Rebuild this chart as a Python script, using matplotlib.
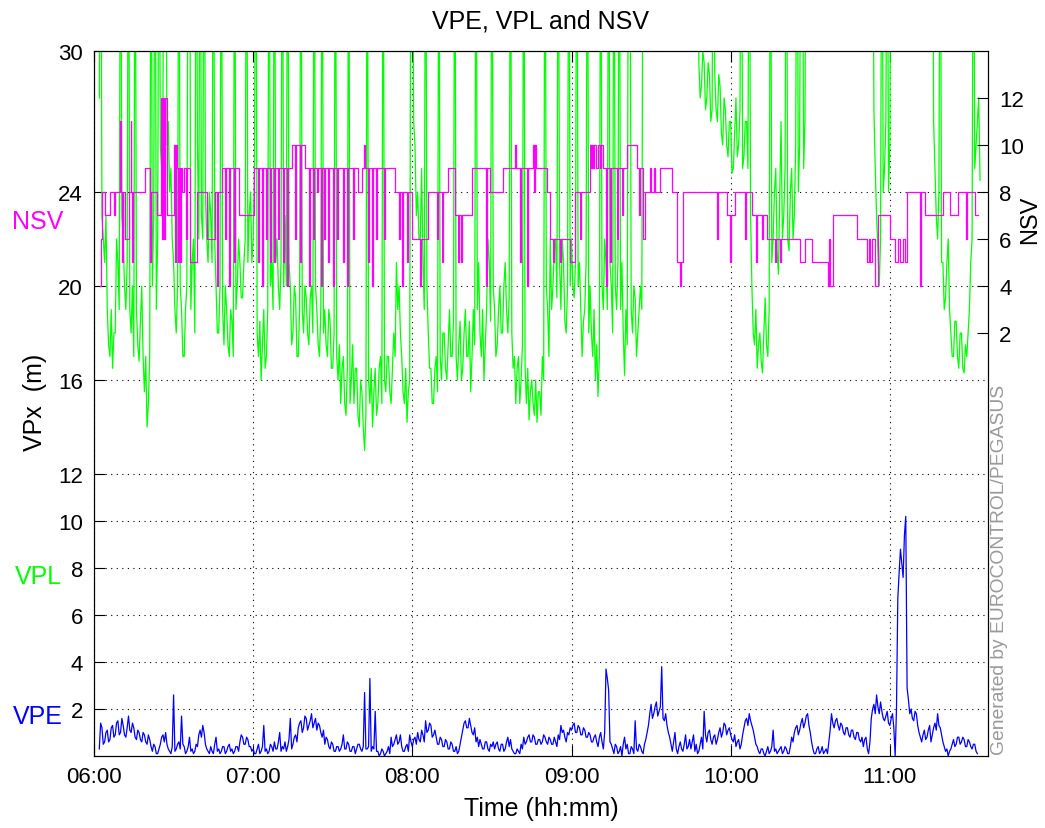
import numpy as np
import matplotlib
matplotlib.use('Agg')
import matplotlib.pyplot as plt

# time axis in minutes after 06:00
# VPL and VPE read at whole minutes from 06:02, plus a second reading half a minute later
vpl = [
    28, 23, 21, 19, 17, 16.5, 18, 21, 40, 22,
    19, 40, 18, 17, 19, 16.8, 20, 15.5, 14.0, 17,
    20, 40, 22, 26, 28, 40, 27, 25, 21, 18,
    40, 19, 17, 20, 40, 21, 18, 26, 40, 22,
    24, 21, 23, 40, 20, 18, 40, 17.5, 19, 17,
    18.5, 40, 20, 21, 19.5, 22, 21, 24, 22, 40,
    17, 16, 19, 17, 40, 21, 40, 22, 19, 40,
    23, 40, 20, 18, 19.5, 17, 40, 18, 19.5, 17.5,
    20, 40, 19, 17, 40, 19, 17, 18.5, 16.5, 40,
    16, 15, 17, 14.5, 40, 16, 15, 16.5, 14, 15.5,
    13, 40, 15, 14, 16.5, 15, 17, 40, 15.5, 17,
    15, 18, 21, 20, 17, 15, 14.2, 16, 40, 26,
    24, 22, 21, 40, 18, 16.5, 15, 17, 40, 16,
    18, 16, 19, 17, 40, 16, 18.5, 16.5, 19, 17,
    15.5, 19, 40, 21, 17, 16, 19, 21, 40, 19,
    17.5, 20, 18, 21, 18, 40, 16.5, 15, 17, 16,
    40, 15, 14.3, 16, 14.5, 14.2, 15.5, 17, 40, 19,
    22, 20, 22, 40, 19, 21, 18, 40, 22, 19.5,
    40, 21, 17, 19, 40, 20, 17, 16, 15.3, 40,
    19, 21, 40, 20, 40, 19, 40, 21, 16.2, 17.5,
    40, 18, 19.5, 18, 20, 40, 40, 40, 40, 40,
    40, 40, 40, 40, 40, 40, 40, 40, 40, 40,
    40, 40, 40, 40, 40, 40, 29.5, 28.5, 29.5, 28,
    29, 27.5, 29, 27, 28.5, 26, 27.5, 25.5, 27, 25,
    28, 26, 40, 25.5, 27, 40, 20, 17.5, 16.5, 18,
    16.3, 19.5, 17, 40, 22, 25, 20.5, 27, 23, 40,
    21.5, 25, 23, 40, 26, 40, 27, 40, 40, 40,
    40, 40, 40, 40, 40, 40, 40, 40, 40, 40,
    40, 40, 40, 40, 40, 40, 40, 40, 40, 40,
    40, 40, 27.5, 23, 20, 40, 25, 40, 26, 40,
    40, 40, 40, 40, 40, 40, 40, 40, 40, 40,
    40, 40, 40, 40, 40, 25, 22, 40, 21, 19.5,
    22, 18, 17, 18.5, 16.5, 18, 16.3, 17, 19, 22,
    25, 27, 24.5,
]

vpl_half = [
    40, 22, 23, 17.5, 19, 18, 22, 19, 23, 20,
    21, 19, 20, 40, 17.5, 18.5, 17, 17, 15, 40,
    23, 19, 40, 25, 40, 26, 24, 22, 19, 20,
    20, 17, 19, 40, 19, 22, 40, 22, 23, 40,
    22, 24, 21, 22, 18, 20, 19, 20, 17.5, 19,
    17, 19, 22, 19.5, 21, 40, 23, 21, 25, 18,
    18.5, 17.5, 16.5, 19, 20, 19, 21, 20, 21, 20,
    20, 21, 17.5, 20, 17, 19, 19, 20, 18, 19.5,
    18, 20, 17.5, 19, 18, 17.5, 19, 16.5, 18, 17,
    17.5, 16.5, 15, 16.5, 15, 17.5, 16.5, 14.5, 16, 14,
    14.5, 16, 16.5, 15.5, 14.5, 16.5, 15, 16, 17, 15.5,
    16.5, 17, 19, 18, 15.5, 16.5, 15.5, 40, 27, 23,
    22, 25, 19, 20, 16.5, 15, 16.5, 15.5, 17, 18,
    16.5, 17.5, 17, 18.5, 17, 17.5, 16, 18, 17, 18.5,
    17, 17.5, 19, 18, 19, 17.5, 22, 18.5, 20, 17,
    19, 18, 20, 19, 19.5, 18, 17, 16.5, 15, 17.5,
    16.5, 16.5, 15.5, 15, 16, 15.5, 14.5, 16, 20, 17,
    19, 21.5, 19.5, 21, 22, 18.5, 20, 20, 20, 21,
    20, 19, 18.5, 21, 18, 18, 19, 17.5, 17, 20,
    22, 19, 21, 18, 20, 21, 19, 18, 19, 40,
    19, 20, 17, 19, 19, 40, 40, 40, 40, 40,
    40, 40, 40, 40, 40, 40, 40, 40, 40, 40,
    40, 40, 40, 40, 40, 40, 28, 30, 27.5, 29.5,
    27, 40, 27.5, 29, 26.5, 28, 26, 27, 24.8, 26.5,
    25.5, 27.5, 25, 27, 25, 23, 18, 19, 17.5, 16.8,
    18, 17.5, 19, 21, 24, 21.5, 24, 22, 25, 22,
    24, 22, 26, 24, 40, 25, 40, 40, 40, 40,
    40, 40, 40, 40, 40, 40, 40, 40, 40, 40,
    40, 40, 40, 40, 40, 40, 40, 40, 40, 40,
    40, 40, 25, 21.5, 22, 24, 27, 24, 40, 40,
    40, 40, 40, 40, 40, 40, 40, 40, 40, 40,
    40, 40, 40, 40, 27, 23, 24, 21, 19, 21,
    19, 17, 18.5, 17, 18, 16.5, 17.5, 18, 21, 40,
    26, 28,
]

vpe = [
    0.3, 1.2, 0.6, 1.1, 0.7, 1.3, 0.9, 1.5, 1.0, 1.3,
    0.8, 1.7, 1.0, 1.2, 0.7, 1.0, 0.6, 0.9, 0.5, 0.7,
    0.2, 0.4, 0.1, 0.5, 0.9, 1.0, 0.3, 0.1, 2.6, 0.3,
    0.6, 1.7, 0.4, 0.2, 0.8, 0.3, 0.2, 0.4, 1.1, 1.3,
    0.5, 0.2, 0.4, 0.1, 0.8, 0.3, 0.2, 0.4, 0.2, 0.5,
    0.3, 0.2, 0.4, 0.6, 0.8, 0.5, 0.7, 0.4, 0.3, 0.1,
    0.5, 0.2, 1.3, 0.3, 0.2, 0.4, 0.6, 0.3, 1.0, 0.4,
    0.6, 0.4, 1.6, 0.5, 0.9, 1.2, 1.5, 1.2, 1.6, 1.3,
    1.8, 1.4, 1.1, 1.3, 0.8, 0.5, 0.7, 0.3, 0.5, 0.2,
    0.4, 0.3, 0.9, 0.3, 0.5, 0.2, 0.4, 0.3, 0.5, 0.2,
    2.7, 0.3, 3.3, 0.4, 1.9, 0.2, 0.1, 0.2, 0.1, 0.4,
    0.8, 0.5, 0.9, 0.6, 0.4, 0.2, 0.5, 0.9, 0.4, 0.8,
    1.0, 0.6, 0.9, 1.5, 1.1, 1.3, 0.9, 0.8, 0.5, 0.7,
    0.4, 0.6, 0.3, 0.5, 0.2, 0.1, 0.5, 1.1, 1.5, 1.2,
    1.3, 0.9, 0.6, 0.4, 0.5, 0.3, 0.6, 0.2, 0.4, 0.3,
    0.6, 0.2, 0.5, 0.3, 0.8, 0.7, 0.2, 0.1, 0.2, 0.5,
    0.8, 0.6, 0.9, 0.6, 0.8, 0.5, 0.7, 0.6, 0.8, 0.5,
    0.7, 0.5, 0.6, 0.9, 1.3, 1.1, 0.6, 0.9, 1.1, 1.4,
    1.0, 1.2, 0.9, 1.1, 0.8, 0.9, 0.6, 0.9, 0.4, 1.0,
    0.3, 3.7, 2.8, 0.5, 0.1, 0.4, 0.2, 0.0, 0.8, 0.5,
    0.1, 0.3, 1.5, 0.2, 0.4, 0.1, 0.7, 1.3, 2.2, 1.8,
    2.3, 1.9, 3.8, 1.5, 1.3, 0.8, 0.2, 1.0, 0.1, 0.6,
    0.2, 0.9, 0.4, 0.3, 0.9, 0.5, 0.2, 0.8, 1.9, 0.6,
    1.1, 0.5, 0.9, 0.7, 1.2, 1.0, 1.3, 1.1, 0.9, 0.6,
    0.4, 0.7, 0.5, 1.2, 1.6, 1.8, 1.3, 0.8, 0.4, 0.1,
    0.3, 0.0, 0.4, 0.2, 1.1, 0.3, 0.2, 0.4, 0.2, 0.3,
    0.1, 0.8, 1.0, 1.3, 1.1, 1.6, 1.4, 1.8, 1.0, 0.3,
    0.1, 0.4, 0.2, 0.1, 0.3, 0.6, 1.8, 1.2, 1.6, 1.1,
    1.3, 0.9, 1.2, 0.8, 1.1, 0.7, 1.0, 0.6, 0.4, 0.8,
    0.1, 1.6, 2.2, 2.6, 1.8, 1.9, 1.5, 1.9, 1.3, 1.8,
    0.0, 6.7, 8.8, 7.6, 10.2, 2.4, 2.0, 1.5, 1.8, 1.0,
    0.6, 1.1, 0.8, 1.3, 0.9, 1.4, 1.8, 1.2, 0.6, 0.2,
    0.0, 0.3, 0.7, 0.5, 0.8, 0.6, 0.7, 0.4, 0.6, 0.3,
    0.5, 0.1,
]

vpe_half = [
    1.4, 0.5, 1.0, 0.6, 1.2, 0.8, 1.4, 0.9, 1.6, 0.9,
    1.2, 1.1, 1.4, 0.8, 1.1, 0.7, 1.0, 0.6, 0.9, 0.4,
    0.5, 0.1, 0.3, 0.8, 0.6, 0.5, 0.2, 0.4, 0.2, 0.5,
    0.3, 0.5, 0.1, 0.4, 0.2, 0.1, 0.5, 0.9, 0.8, 1.0,
    0.3, 0.1, 0.2, 0.5, 0.2, 0.1, 0.4, 0.1, 0.4, 0.2,
    0.1, 0.4, 0.2, 0.9, 0.5, 0.8, 0.4, 0.2, 0.1, 0.3,
    0.1, 0.4, 0.2, 0.1, 0.5, 0.2, 0.3, 0.6, 0.2, 0.3,
    0.2, 0.7, 0.3, 0.8, 0.6, 1.4, 1.0, 1.7, 1.1, 1.5,
    1.2, 1.6, 1.4, 1.0, 1.1, 0.8, 0.4, 0.6, 0.2, 0.4,
    0.2, 0.5, 0.3, 0.6, 0.2, 0.4, 0.1, 0.5, 0.3, 0.4,
    0.3, 0.4, 0.2, 0.3, 0.2, 0.0, 0.3, 0.0, 0.2, 0.1,
    0.4, 0.7, 0.5, 0.9, 0.2, 0.4, 0.2, 0.6, 0.7, 0.5,
    0.7, 1.1, 0.6, 1.0, 1.4, 0.8, 1.1, 0.5, 0.8, 0.4,
    0.7, 0.3, 0.6, 0.2, 0.4, 0.2, 0.8, 1.4, 1.2, 1.6,
    1.0, 1.2, 0.8, 0.7, 0.3, 0.6, 0.3, 0.5, 0.6, 0.5,
    0.3, 0.5, 0.2, 0.6, 0.4, 0.3, 0.1, 0.3, 0.1, 0.3,
    0.5, 0.8, 0.6, 0.9, 0.5, 0.7, 0.5, 0.9, 0.6, 0.8,
    0.5, 0.8, 0.4, 0.7, 1.0, 0.8, 1.0, 1.2, 1.3, 1.0,
    1.3, 0.9, 1.2, 0.8, 1.0, 0.6, 0.8, 0.6, 0.8, 0.6,
    1.0, 3.3, 0.6, 0.3, 0.5, 0.1, 0.4, 0.5, 0.3, 0.1,
    0.4, 0.1, 0.3, 0.5, 0.2, 0.5, 1.0, 1.8, 1.6, 2.1,
    1.7, 2.1, 1.6, 1.8, 1.0, 0.5, 0.6, 0.3, 0.4, 0.3,
    0.5, 0.3, 0.7, 0.6, 0.2, 0.1, 0.5, 0.3, 0.9, 1.0,
    0.7, 0.8, 0.5, 1.0, 0.8, 1.4, 0.9, 1.2, 0.7, 0.9,
    0.6, 0.3, 0.9, 1.5, 1.3, 1.5, 1.1, 0.5, 0.2, 0.3,
    0.1, 0.2, 0.1, 0.4, 0.2, 0.1, 0.3, 0.1, 0.4, 0.1,
    0.4, 0.6, 1.2, 0.9, 1.4, 1.2, 1.7, 1.3, 0.6, 0.1,
    0.3, 0.1, 0.4, 0.2, 0.1, 1.1, 1.4, 1.5, 1.3, 1.4,
    1.0, 1.2, 0.9, 1.1, 0.8, 1.0, 0.7, 0.8, 0.7, 0.3,
    0.6, 2.0, 1.8, 2.1, 2.3, 1.6, 1.7, 1.4, 1.6, 1.2,
    2.0, 7.8, 8.2, 9.4, 2.9, 1.8, 1.6, 1.9, 1.3, 0.8,
    0.9, 0.7, 1.1, 0.6, 1.2, 1.1, 1.3, 0.9, 0.4, 0.3,
    0.2, 0.5, 0.4, 0.8, 0.5, 0.8, 0.4, 0.7, 0.4, 0.5,
    0.2,
]

# NSV: change times (minutes after 06:00) and new value
nsv_t = [
    2.3, 2.6, 3.0, 4.1, 6.0, 7.5, 7.9, 9.8, 10.2, 10.6, 10.9, 11.7, 13.2, 13.9,
    14.1, 14.3, 14.7, 19.2, 21.1, 21.3, 23.7, 25.3, 25.6, 26.0, 26.4, 26.8, 27.5,
    30.2, 30.5, 30.9, 31.3, 31.7, 32.0, 32.4, 32.8, 33.2, 33.9, 34.7, 35.1, 36.2,
    38.8, 42.6, 45.6, 46.4, 46.7, 48.2, 49.4, 49.8, 50.9, 51.3, 52.8, 53.1, 54.7,
    60.3, 61.8, 62.2, 63.3, 63.7, 64.8, 65.2, 66.3, 66.7, 67.8, 68.2, 69.4, 69.7,
    71.2, 71.6, 72.7, 73.1, 74.6, 75.8, 76.1, 77.6, 78.0, 79.5, 81.0, 81.4, 82.5,
    82.9, 84.1, 84.4, 85.6, 85.9, 86.7, 87.1, 88.2, 88.6, 90.1, 90.5, 91.6, 92.0,
    93.9, 94.2, 95.4, 95.7, 97.6, 98.0, 99.5, 101.0, 101.8, 102.1, 103.3, 103.7,
    104.8, 105.2, 106.3, 106.7, 109.3, 109.7, 113.5, 115.0, 115.3, 116.1, 116.5,
    118.0, 118.4, 119.9, 122.9, 123.3, 125.9, 129.3, 129.7, 131.2, 131.6, 133.4,
    136.1, 137.2, 137.6, 138.3, 138.7, 142.5, 147.8, 148.1, 149.3, 154.2, 158.7,
    159.1, 160.6, 161.0, 163.2, 163.6, 165.5, 165.9, 166.2, 166.6, 170.7, 171.9,
    173.0, 173.4, 175.6, 176.0, 179.4, 181.3, 183.2, 183.6, 187.0, 187.3, 187.7,
    188.1, 188.5, 189.2, 190.0, 190.7, 191.1, 191.9, 193.0, 193.4, 194.5, 194.9,
    197.1, 197.5, 199.0, 199.4, 200.9, 204.7, 205.4, 205.8, 206.9, 207.7, 209.6,
    210.0, 211.1, 211.5, 213.4, 217.9, 219.8, 220.9, 221.3, 222.0, 234.8, 235.2,
    238.6, 239.7, 240.1, 241.6, 245.4, 245.8, 248.0, 249.5, 249.9, 251.8, 252.2,
    253.7, 256.7, 257.1, 258.6, 259.0, 266.1, 268.0, 270.6, 276.7, 277.0, 277.4,
    278.6, 287.6, 291.4, 292.1, 292.5, 293.2, 294.4, 295.5, 300.1, 301.9, 303.1,
    303.8, 304.9, 305.7, 306.4, 311.3, 311.7, 313.2, 320.0, 322.7, 325.7, 328.7,
    329.1, 332.1, 333.2,
]
nsv_v = [
    4, 6, 8, 7, 8, 7, 8, 11, 8, 5, 8, 6, 8, 11,
    8, 5, 8, 9, 5, 8, 7, 12, 6, 12, 6, 12, 7,
    10, 5, 10, 9, 5, 9, 5, 9, 8, 9, 6, 9, 5,
    8, 6, 8, 4, 8, 9, 6, 9, 4, 9, 5, 9, 7,
    9, 5, 9, 4, 9, 6, 9, 5, 9, 5, 9, 6, 9,
    5, 9, 4, 9, 10, 6, 10, 5, 10, 9, 4, 9, 6,
    9, 8, 9, 4, 9, 6, 9, 5, 9, 4, 9, 6, 9,
    5, 9, 4, 9, 6, 9, 8, 9, 10, 9, 5, 9,
    4, 9, 6, 9, 6, 9, 8, 6, 8, 4, 8,
    5, 8, 6, 4, 6, 8, 6, 8, 5, 8, 9,
    7, 5, 7, 5, 7, 9, 4, 9, 8, 9, 10,
    9, 5, 9, 4, 9, 10, 8, 10, 9, 8, 6,
    5, 6, 5, 6, 5, 8, 6, 8, 10, 9, 10,
    9, 10, 9, 10, 9, 10, 9, 4, 9, 5, 9,
    6, 9, 7, 9, 10, 9, 7, 9, 6, 8, 9,
    8, 9, 8, 9, 8, 5, 4, 5, 8, 6, 8,
    7, 5, 7, 8, 6, 8, 7, 5, 7, 6, 7,
    6, 5, 6, 5, 6, 5, 6, 5, 4, 6, 4,
    7, 6, 5, 6, 5, 6, 4, 7, 6, 5, 6,
    5, 6, 5, 8, 4, 8, 7, 8, 7, 8, 6,
    8, 7, 7,
]


def merge(whole, half):
    t = np.concatenate([np.arange(2, 2 + len(whole)), np.arange(2, 2 + len(half)) + 0.5])
    v = np.concatenate([whole, half])
    order = np.argsort(t)
    return t[order], v[order]


t_vpl, v_vpl = merge(vpl, vpl_half)
t_vpe, v_vpe = merge(vpe, vpe_half)

hour_ticks = [0, 60, 120, 180, 240, 300]
hour_labels = ['06:00', '07:00', '08:00', '09:00', '10:00', '11:00']

plt.rcParams['font.family'] = ['Liberation Sans', 'DejaVu Sans']

fig = plt.figure(figsize=(10.45, 8.29), dpi=100)
ax = fig.add_axes([94 / 1045, 1 - 757 / 829, 894 / 1045, 705 / 829])

ax.plot(t_vpe, v_vpe, color='#0000ff', lw=0.9)
ax.plot(t_vpl, v_vpl, color='#00ff00', lw=0.9)
ax.set_xlim(0, 337)
ax.set_ylim(0, 30)
ax.set_yticks([2, 4, 6, 8, 10, 12, 16, 20, 24, 30])
ax.set_xticks(hour_ticks)
ax.set_xticklabels(hour_labels)
ax.grid(True, color='black', linestyle=(0, (1, 4)), lw=0.8)
ax.tick_params(direction='in', length=8, labelsize=16, right=True, top=True)
ax.tick_params(axis='x', pad=7)
ax.tick_params(axis='y', pad=8)

ax2 = ax.twinx()
ax2.step(nsv_t, nsv_v, where='post', color='#ff00ff', lw=0.9)
ax2.set_ylim(-16.04, 14)
ax2.set_yticks([2, 4, 6, 8, 10, 12])
ax2.tick_params(direction='in', length=8, labelsize=16, pad=8)

ax.set_title('VPE, VPL and NSV', fontsize=18, pad=17)
ax.set_xlabel('Time (hh:mm)', fontsize=18, labelpad=7)

fig.text(35 / 1045, 1 - 402 / 829, 'VPx  (m)', rotation=90, ha='center', va='center', fontsize=18)
fig.text(1030 / 1045, 1 - 220 / 829, 'NSV', rotation=90, ha='center', va='center', fontsize=17)
fig.text(38 / 1045, 1 - 222 / 829, 'NSV', color='#ff00ff', ha='center', va='center', fontsize=18)
fig.text(38 / 1045, 1 - 577 / 829, 'VPL', color='#00ff00', ha='center', va='center', fontsize=18)
fig.text(38 / 1045, 1 - 717 / 829, 'VPE', color='#0000ff', ha='center', va='center', fontsize=18)
fig.text(1000 / 1045, 1 - 570 / 829, 'Generated by EUROCONTROL/PEGASUS', rotation=90,
         ha='center', va='center', fontsize=13.9, color='#999999')

fig.savefig('out.png', dpi=100)
